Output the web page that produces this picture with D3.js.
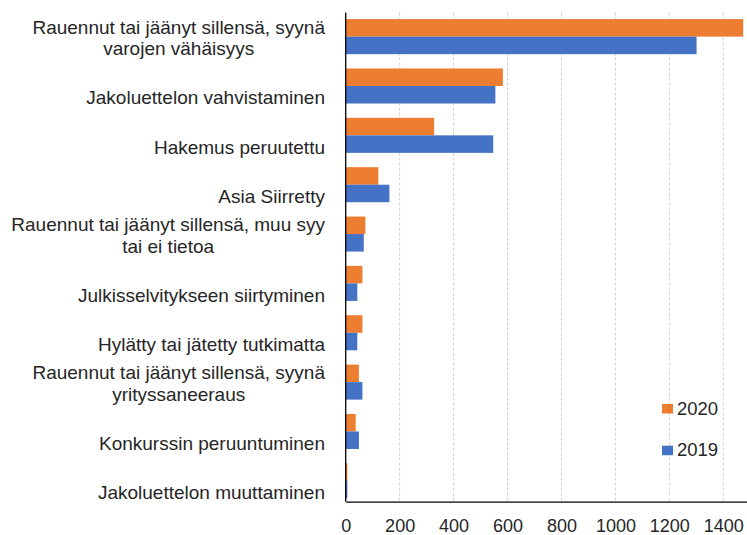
<!DOCTYPE html>
<html>
<head>
<meta charset="utf-8">
<script src="https://cdn.jsdelivr.net/npm/d3@7"></script>
<style>
  body { margin: 0; background: #fff; }
  svg { display: block; }
  text { font-family: "Liberation Sans", Arial, sans-serif; fill: #262626; }
</style>
</head>
<body>
<svg width="747" height="535"></svg>
<script>
// categories top to bottom, one label line per array entry
var categories = [
    ["Rauennut tai jäänyt sillensä, syynä", "varojen vähäisyys"],
    ["Jakoluettelon vahvistaminen"],
    ["Hakemus peruutettu"],
    ["Asia Siirretty"],
    ["Rauennut tai jäänyt sillensä, muu syy", "tai ei tietoa"],
    ["Julkisselvitykseen siirtyminen"],
    ["Hylätty tai jätetty tutkimatta"],
    ["Rauennut tai jäänyt sillensä, syynä", "yrityssaneeraus"],
    ["Konkurssin peruuntuminen"],
    ["Jakoluettelon muuttaminen"]
];
var values2020 = [1474, 583, 328, 121, 73, 62, 62, 49, 37, 6];
var values2019 = [1301, 555, 547, 162, 67, 43, 43, 62, 49, 6];
var seriesNames = ["2020", "2019"];
var seriesColors = ["#ED7D31", "#4472C4"];
var tickValues = [0, 200, 400, 600, 800, 1000, 1200, 1400];

var svg = d3.select("svg"),
    plotLeft = 345.7,
    plotRight = 747,
    plotTop = 12.6,
    plotBottom = 501.7,
    labelRight = 325;

var x = d3.scaleLinear()
    .domain([0, 1488])
    .range([plotLeft, plotRight]);

var y = d3.scaleBand()
    .domain(d3.range(categories.length))
    .range([plotTop, plotBottom])
    .paddingInner(0.29)
    .paddingOuter(0.1)
    .align(0.66);

var ySub = d3.scaleBand()
    .domain(seriesNames)
    .range([0, y.bandwidth()]);

var color = d3.scaleOrdinal().domain(seriesNames).range(seriesColors);

// gridlines
svg.append("g")
    .selectAll("line")
    .data(tickValues.slice(1))
    .enter().append("line")
    .attr("x1", function(d) { return x(d); })
    .attr("x2", function(d) { return x(d); })
    .attr("y1", plotTop)
    .attr("y2", plotBottom)
    .attr("stroke", "#d0d0d0")
    .attr("stroke-width", 1)
    .attr("stroke-dasharray", "3,2");

// bars
var rows = categories.map(function(c, i) {
    return [
        { series: "2020", i: i, value: values2020[i] },
        { series: "2019", i: i, value: values2019[i] }
    ];
});

svg.append("g")
    .selectAll("g")
    .data(rows)
    .enter().append("g")
    .attr("transform", function(d, i) { return "translate(0," + y(i) + ")"; })
    .selectAll("rect")
    .data(function(d) { return d; })
    .enter().append("rect")
    .attr("x", x(0))
    .attr("y", function(d) { return ySub(d.series); })
    .attr("width", function(d) { return x(d.value) - x(0); })
    .attr("height", ySub.bandwidth())
    .attr("fill", function(d) { return color(d.series); });

// x axis
var xAxis = svg.append("g")
    .attr("transform", "translate(0," + plotBottom + ")")
    .call(d3.axisBottom(x).tickValues(tickValues).tickFormat(d3.format("d")).tickSize(0).tickPadding(18));
xAxis.select(".domain").attr("stroke", "#000").attr("stroke-width", 1.3);
xAxis.selectAll("text")
    .style("font-family", '"Liberation Sans", Arial, sans-serif')
    .style("font-size", "18px")
    .attr("fill", "#262626");

// y axis line
svg.append("line")
    .attr("x1", plotLeft).attr("x2", plotLeft)
    .attr("y1", plotTop).attr("y2", plotBottom)
    .attr("stroke", "#000")
    .attr("stroke-width", 1.3);

// category labels: block right aligned, lines centred inside it
var lineGap = 21.5;
categories.forEach(function(lines, i) {
    var cy = y(i) + y.bandwidth() / 2 + 18.5;
    var g = svg.append("g");
    var texts = lines.map(function(t, j) {
        return g.append("text")
            .attr("y", cy - (lines.length - 1 - j) * lineGap)
            .attr("text-anchor", "middle")
            .style("font-size", "19px")
            .text(t);
    });
    var maxW = d3.max(texts, function(t) { return t.node().getComputedTextLength(); });
    texts.forEach(function(t) { t.attr("x", labelRight - maxW / 2); });
});

// legend
var legend = svg.append("g")
    .selectAll("g")
    .data(seriesNames)
    .enter().append("g")
    .attr("transform", function(d, i) { return "translate(662," + (404 + i * 41.7) + ")"; });

legend.append("rect")
    .attr("width", 11)
    .attr("height", 9.5)
    .attr("fill", function(d) { return color(d); });

legend.append("text")
    .attr("x", 15)
    .attr("y", 10.5)
    .style("font-size", "18.5px")
    .text(function(d) { return d; });
</script>
</body>
</html>
